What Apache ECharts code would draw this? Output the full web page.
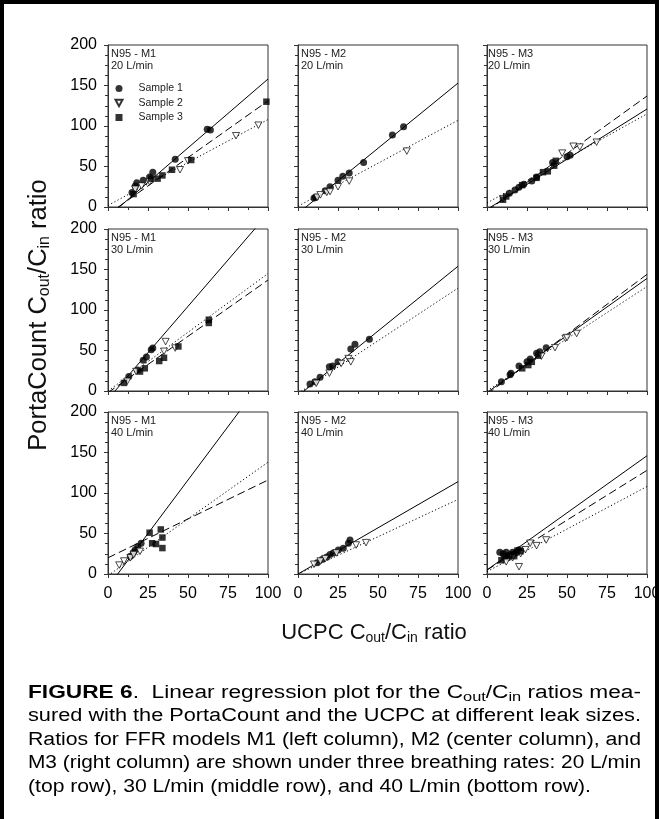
<!DOCTYPE html>
<html><head><meta charset="utf-8">
<script src="https://cdn.jsdelivr.net/npm/echarts@6/dist/echarts.min.js"></script>
<style>html,body{margin:0;padding:0;background:#fff}#c{width:659px;height:819px}</style>
</head><body><div id="c"></div>
<script>
// ---------- labels ----------
const models = ['M1', 'M2', 'M3'];
const rates = ['20 L/min', '30 L/min', '40 L/min'];
const sampleNames = ['Sample 1', 'Sample 2', 'Sample 3'];
const xTicks = [0, 25, 50, 75, 100];
const yTicks = [0, 50, 100, 150, 200];

// ---------- data: [UCPC ratio, PortaCount ratio] ----------
const m1_20_s1 = [[15,18],[17,26],[18,30],[22,33],[26,37],[28,43],[42,59],[62,96],[64,95]];
const m1_20_s2 = [[17,22],[21,26],[26,31],[45,46],[50,57],[80,88],[94,101]];
const m1_20_s3 = [[16,16],[27,35],[31,35],[34,39],[40,46],[52,58],[99,130]];
const m1_20_fit = [[-12,158],[2,108],[-9,131]];   // fitted value at x=0 and x=100

const m2_20_s1 = [[10,11],[11,12],[17,20],[20,25],[25,33],[28,38],[32,42],[41,55],[59,89],[66,99]];
const m2_20_s2 = [[12,12],[14,15],[18,18],[20,19],[25,25],[32,32],[68,69]];
const m2_20_fit = [[-8,153],[1,107]];

const m3_20_s1 = [[14,17],[17.5,21],[20,24.5],[23,28],[28,32],[31,37],[41,55],[50,62],[52,64]];
const m3_20_s2 = [[10,10],[47,66.5],[54,75],[58,74],[68.5,80]];
const m3_20_s3 = [[10,9],[12,13],[22,27],[31,36],[35,43],[38,44],[42,51],[43,57]];
const m3_20_fit = [[-3,121],[5,115],[-5,137]];

const m1_30_s1 = [[13,18],[18.6,26],[22,38],[24,42],[27,51],[28,53]];
const m1_30_s2 = [[12,12],[17.6,24],[35,49],[36,61],[42,53]];
const m1_30_s3 = [[10,10],[20,24],[23,28],[32,37],[35,41],[44,55],[63,84],[63,88]];
const m1_30_fit = [[-10,219],[0,145],[-2,137]];

const m2_30_s1 = [[7.5,8.6],[10.6,11.5],[13.8,17],[19.6,30],[21.7,31],[25,36],[33,52],[35.6,57.6],[44.6,64]];
const m2_30_s2 = [[11.4,9.5],[19.6,22],[27,34],[31.5,40],[33,36]];
const m2_30_fit = [[-6,154],[-3,127]];

const m3_30_s1 = [[9,11.5],[14.4,20],[15,22],[20,31],[25,36],[27,39.5],[31,46.5],[33,48.6],[37,53.5]];
const m3_30_s2 = [[34,43],[42.5,53.5],[49,65],[50,66],[56,71]];
const m3_30_s3 = [[22,28],[25.8,32],[28,36],[32,43.6]];
const m3_30_fit = [[-2,139],[0,129],[-4,144]];

const m1_40_s1 = [[14,22],[16,27],[17,30],[18.6,34],[20.7,38]];
const m1_40_s2 = [[7,11],[10,16],[14,20],[16,24],[20,28]];
const m1_40_s3 = [[26,51],[33,55],[34,45],[27.6,38],[30,37],[34,32]];
const m1_40_fit = [[-16,248],[-2,138],[20,116]];

const m2_40_s1 = [[12,14],[15,18],[18,21],[20,24],[22,26],[25.2,29.6],[28.3,31.7],[31.5,37.9],[32.5,42]];
const m2_40_s2 = [[10,12],[14,16],[17,19],[24,26],[36.3,35.8],[42.5,38.7]];
const m2_40_fit = [[0,114],[0,92]];

const m3_40_s1 = [[8,27],[10,25],[12,27],[13,20],[15,24],[16,27],[18,26],[20,30]];
const m3_40_s2 = [[12,15],[16,20],[20,9],[21,25],[24,30],[27,38],[31,35],[37,42]];
const m3_40_s3 = [[9,17],[11,22],[14,23],[17,22],[19,29],[21,28]];
const m3_40_fit = [[5,146],[3,108],[5,128]];

const panels = [
  {row:0, col:0, samples:[m1_20_s1, m1_20_s2, m1_20_s3], fits:m1_20_fit},
  {row:0, col:1, samples:[m2_20_s1, m2_20_s2, null], fits:m2_20_fit},
  {row:0, col:2, samples:[m3_20_s1, m3_20_s2, m3_20_s3], fits:m3_20_fit},
  {row:1, col:0, samples:[m1_30_s1, m1_30_s2, m1_30_s3], fits:m1_30_fit},
  {row:1, col:1, samples:[m2_30_s1, m2_30_s2, null], fits:m2_30_fit},
  {row:1, col:2, samples:[m3_30_s1, m3_30_s2, m3_30_s3], fits:m3_30_fit},
  {row:2, col:0, samples:[m1_40_s1, m1_40_s2, m1_40_s3], fits:m1_40_fit},
  {row:2, col:1, samples:[m2_40_s1, m2_40_s2, null], fits:m2_40_fit},
  {row:2, col:2, samples:[m3_40_s1, m3_40_s2, m3_40_s3], fits:m3_40_fit}
];

// ---------- layout ----------
const FONT = '"Liberation Sans", Arial, Helvetica, sans-serif';
const colLeft = [108, 298, 487];
const rowTop = [45, 229, 412];
const PW = 160, PH = 162;
const labelOffset = [3, 3, 1];

const downTriangle = 'path://M0,0 L10,0 L5,9 Z';
const symbols = [
  {symbol:'circle', symbolSize:7, itemStyle:{color:'#000'}},
  {symbol:downTriangle, symbolSize:[7,6.5], itemStyle:{color:'#fff', borderColor:'#000', borderWidth:0.9}},
  {symbol:'rect', symbolSize:6.5, itemStyle:{color:'#000'}}
];
const lineTypes = ['solid', [1.2, 2.4], [8, 4]];

const grid = [], xAxis = [], yAxis = [], series = [], graphic = [];

panels.forEach((p, i) => {
  grid.push({left: colLeft[p.col], top: rowTop[p.row], width: PW, height: PH,
    show: true, borderColor: '#333', borderWidth: 1, backgroundColor: 'transparent',
    containLabel: false, outerBoundsMode: 'none'});
  xAxis.push({type:'value', gridIndex:i, min:xTicks[0], max:xTicks[xTicks.length-1], interval:25,
    axisLine:{show:true, onZero:false, lineStyle:{color:'#333', width:1}},
    axisTick:{show:true, length:4, lineStyle:{color:'#333'}},
    minorTick:{show:true, splitNumber:2, length:3, lineStyle:{color:'#333'}},
    splitLine:{show:false}, minorSplitLine:{show:false},
    axisLabel:{show: p.row === 2, fontSize:16, color:'#000', fontFamily:FONT, margin:12,
      showMinLabel:true, showMaxLabel:true}});
  yAxis.push({type:'value', gridIndex:i, min:yTicks[0], max:yTicks[yTicks.length-1], interval:50,
    axisLine:{show:true, onZero:false, lineStyle:{color:'#333', width:1}},
    axisTick:{show:true, length:4, lineStyle:{color:'#333'}},
    minorTick:{show:true, splitNumber:4, length:3, lineStyle:{color:'#333'}},
    splitLine:{show:false}, minorSplitLine:{show:false},
    axisLabel:{show: p.col === 0, fontSize:16, color:'#000', fontFamily:FONT, margin:11,
      showMinLabel:true, showMaxLabel:true}});

  p.fits.forEach((f, k) => {
    series.push({type:'line', name:'fit'+(k+1), xAxisIndex:i, yAxisIndex:i,
      data:[[xTicks[0], f[0]], [xTicks[xTicks.length-1], f[1]]],
      symbol:'none', clip:true, silent:true, z:2,
      lineStyle:{color:'#000', width:1, type:lineTypes[k]}});
  });
  p.samples.forEach((d, k) => {
    if (!d) return;
    series.push(Object.assign({type:'scatter', name:sampleNames[k], xAxisIndex:i, yAxisIndex:i,
      data:d, z:3, silent:true}, JSON.parse(JSON.stringify(symbols[k]))));
  });

  graphic.push({type:'text', x: colLeft[p.col] + labelOffset[p.col], y: rowTop[p.row] + 3, z:10,
    style:{text: 'N95 - ' + models[p.col] + '\n' + rates[p.row], fontSize:11, lineHeight:12,
      fontFamily:FONT, fill:'#222', align:'left', verticalAlign:'top'}});
});

// ---------- text helpers ----------
const measureCtx = document.createElement('canvas').getContext('2d');
function tw(font, s) { measureCtx.font = font; return measureCtx.measureText(s).width; }

// caption
const capSize = 18, capSub = 13;
const captionLines = [
  [['b','FIGURE 6'],['n','.  Linear regression plot for the C'],['s','out'],['n','/C'],['s','in'],['n',' ratios mea-']],
  [['n','sured with the PortaCount and the UCPC at different leak sizes.']],
  [['n','Ratios for FFR models M1 (left column), M2 (center column), and']],
  [['n','M3 (right column) are shown under three breathing rates: 20 L/min']],
  [['n','(top row), 30 L/min (middle row), and 40 L/min (bottom row).']]
];
const capTargets = [613, 613, 613, 613, 563];
const capY = [693, 716.5, 740, 763.5, 787];
const capFonts = {b:'bold ' + capSize + 'px ' + FONT, n: capSize + 'px ' + FONT, s: capSub + 'px ' + FONT};
captionLines.forEach((line, li) => {
  let w = 0, str = '';
  line.forEach(([k, t]) => { w += tw(capFonts[k], t); str += '{' + k + '|' + t + '}'; });
  graphic.push({type:'text', x:28, y:capY[li], scaleX: capTargets[li] / w, z:10,
    style:{text:str, align:'left', verticalAlign:'middle', fill:'#000', fontFamily:FONT, fontSize:capSize,
      rich:{
        b:{fontFamily:FONT, fontSize:capSize, fontWeight:'bold', lineHeight:22, fill:'#000'},
        n:{fontFamily:FONT, fontSize:capSize, lineHeight:22, fill:'#000'},
        s:{fontFamily:FONT, fontSize:capSub, lineHeight:13, verticalAlign:'bottom', fill:'#000'}
      }}});
});

// axis titles
function titleText(main, size, subSize) {
  return {
    text: '{n|' + main + ' C}{s|out}{n|/C}{s|in}{n| ratio}',
    rich: {
      n:{fontFamily:FONT, fontSize:size, lineHeight:size + 2, fill:'#111'},
      s:{fontFamily:FONT, fontSize:subSize, lineHeight:subSize, verticalAlign:'bottom', fill:'#111'}
    }
  };
}
graphic.push({type:'text', x:374, y:633, z:10,
  style:Object.assign({align:'center', verticalAlign:'middle', fontFamily:FONT}, titleText('UCPC', 22, 14))});
graphic.push({type:'text', x:39, y:315, rotation:Math.PI/2, z:10,
  style:Object.assign({align:'center', verticalAlign:'middle', fontFamily:FONT}, titleText('PortaCount', 25.5, 16))});

// outer frame
graphic.push({type:'rect', z:100, silent:true, shape:{x:2, y:2, width:655, height:840},
  style:{fill:'none', stroke:'#000', lineWidth:4}});

const chart = echarts.init(document.getElementById('c'), null, {renderer:'canvas'});
chart.setOption({
  animation:false,
  backgroundColor:'#fff',
  textStyle:{fontFamily:FONT},
  legend:{
    data:[
      {name:sampleNames[0], icon:'circle'},
      {name:sampleNames[1], icon:downTriangle},
      {name:sampleNames[2], icon:'rect'}
    ],
    orient:'vertical', left:114.5, top:83, itemWidth:7, itemHeight:7, itemGap:3.5,
    padding:0, selectedMode:false,
    textStyle:{fontSize:10.5, color:'#222', fontFamily:FONT, padding:[0,0,0,11]}},
  grid, xAxis, yAxis, series, graphic
});
</script></body></html>
